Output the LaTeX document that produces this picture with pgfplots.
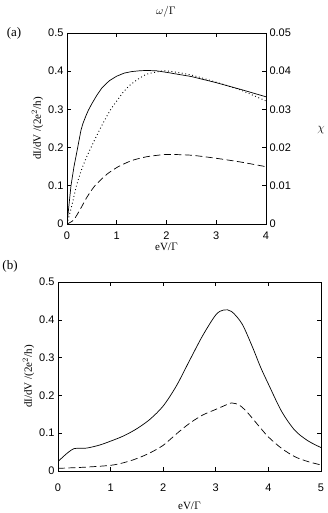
\documentclass[border=0pt]{standalone}
\usepackage{fontspec}
\setmainfont{Liberation Serif}
\setsansfont{Liberation Sans}
\usepackage{pgfplots}
\pgfplotsset{compat=1.18}

\pgfplotsset{
  panel/.style={
    scale only axis,
    axis line style={line width=0.8pt},
    tick style={black, line width=0.6pt},
    major tick length=4pt,
    tick align=inside,
    ymin=0, ymax=0.5,
    ytick={0,0.1,...,0.5},
    scaled y ticks=false,
    yticklabel style={/pgf/number format/fixed},
    tick label style={font=\fontsize{11}{13}\sffamily},
    /pgf/number format/assume math mode=true,
    label style={font=\fontsize{11}{13}\selectfont},
    every axis plot/.append style={black, line width=0.7pt},
  }
}

\begin{document}
\begin{tikzpicture}
\path[use as bounding box] (0pt,0pt) rectangle (327pt,513pt);

% panel (a)
\begin{axis}[panel,
  at={(67pt,289pt)}, anchor=south west,
  width=199pt, height=191pt,
  xmin=0, xmax=4, xtick={0,1,2,3,4},
  ytick pos=left,
  xticklabel style={yshift=-4pt},
  xlabel={eV/$\Gamma$},
  ylabel={dI/dV /(2e$^2$/h)},
  xlabel style={yshift=3pt},
  ylabel style={yshift=-2pt},
]
\addplot[solid] coordinates {
(0,0)(0.04,0.05)(0.08,0.1)(0.14,0.15)(0.2,0.19)(0.28,0.245)(0.32,0.263)
(0.38,0.283)(0.43,0.298)(0.5,0.315)(0.6,0.337)(0.7,0.356)(0.85,0.375)(1,0.387)(1.15,0.395)
(1.3,0.399)(1.45,0.401)(1.6,0.402)(1.8,0.401)(2,0.397)(2.5,0.386)(3,0.37)(3.5,0.352)(4,0.333)};
\addplot[dash pattern=on 0.9pt off 2.6pt, line width=0.9pt, smooth, tension=0.4] coordinates {
(0,0)(0.1,0.05)(0.19,0.1)(0.3,0.145)(0.4,0.177)(0.5,0.205)(0.6,0.232)(0.7,0.258)
(0.87,0.298)(1,0.322)(1.13,0.345)(1.27,0.364)(1.45,0.381)(1.6,0.392)(1.8,0.398)
(2,0.401)(2.5,0.39)(3,0.371)(3.5,0.35)(4,0.322)};
\addplot[dash pattern=on 7pt off 3.5pt, smooth, tension=0.4] coordinates {
(0,0)(0.13,0.01)(0.26,0.037)(0.4,0.07)(0.56,0.1)(0.8,0.13)(1.03,0.15)(1.3,0.166)
(1.6,0.176)(2,0.182)(2.5,0.18)(3,0.172)(3.5,0.162)(4,0.15)};
\end{axis}
\begin{axis}[panel,
  at={(67pt,289pt)}, anchor=south west,
  width=199pt, height=191pt,
  xmin=0, xmax=4, xtick=\empty,
  axis y line*=right, axis x line=none,
  ymin=0, ymax=0.05, ytick={0,0.01,...,0.05},
  yticklabel style={/pgf/number format/precision=2},
]
\end{axis}
\node[font=\fontsize{12}{14}\selectfont] at (321pt,383pt) {$\chi$};
\node[font=\fontsize{11}{13}\selectfont] at (166pt,501pt) {$\omega/\Gamma$};
\node[font=\fontsize{13}{15}\selectfont] at (14pt,480pt) {(a)};

% panel (b)
\begin{axis}[panel,
  at={(58pt,42pt)}, anchor=south west,
  width=263pt, height=189pt,
  xmin=0, xmax=5, xtick={0,1,...,5},
  xticklabel style={yshift=-9pt},
  xlabel={eV/$\Gamma$},
  xlabel style={yshift=-4pt},
  ylabel={dI/dV /(2e$^2$/h)},
  ylabel style={yshift=-2pt},
]
\addplot[solid, smooth, tension=0.5] coordinates {
(0,0.025)(0.1,0.038)(0.2,0.05)(0.3,0.059)(0.4,0.06)(0.5,0.06)(0.6,0.062)
(0.8,0.069)(1,0.079)(1.25,0.093)(1.5,0.112)(1.75,0.137)(2,0.172)(2.25,0.225)
(2.5,0.292)(2.75,0.358)(3,0.413)(3.15,0.426)(3.3,0.422)(3.5,0.389)(3.7,0.327)
(3.85,0.275)(4,0.23)(4.25,0.158)(4.5,0.108)(4.75,0.08)(5,0.062)};
\addplot[dash pattern=on 7pt off 3.5pt, smooth, tension=0.5] coordinates {
(0,0.007)(0.5,0.01)(1,0.015)(1.25,0.022)(1.5,0.033)(1.75,0.048)(2,0.068)
(2.25,0.098)(2.5,0.126)(2.75,0.148)(3,0.163)(3.15,0.172)(3.3,0.18)(3.45,0.174)
(3.6,0.155)(3.8,0.122)(4,0.09)(4.25,0.06)(4.5,0.038)(4.75,0.025)(5,0.016)};
\end{axis}
\node[font=\fontsize{13}{15}\selectfont] at (10pt,247pt) {(b)};
\end{tikzpicture}
\end{document}
